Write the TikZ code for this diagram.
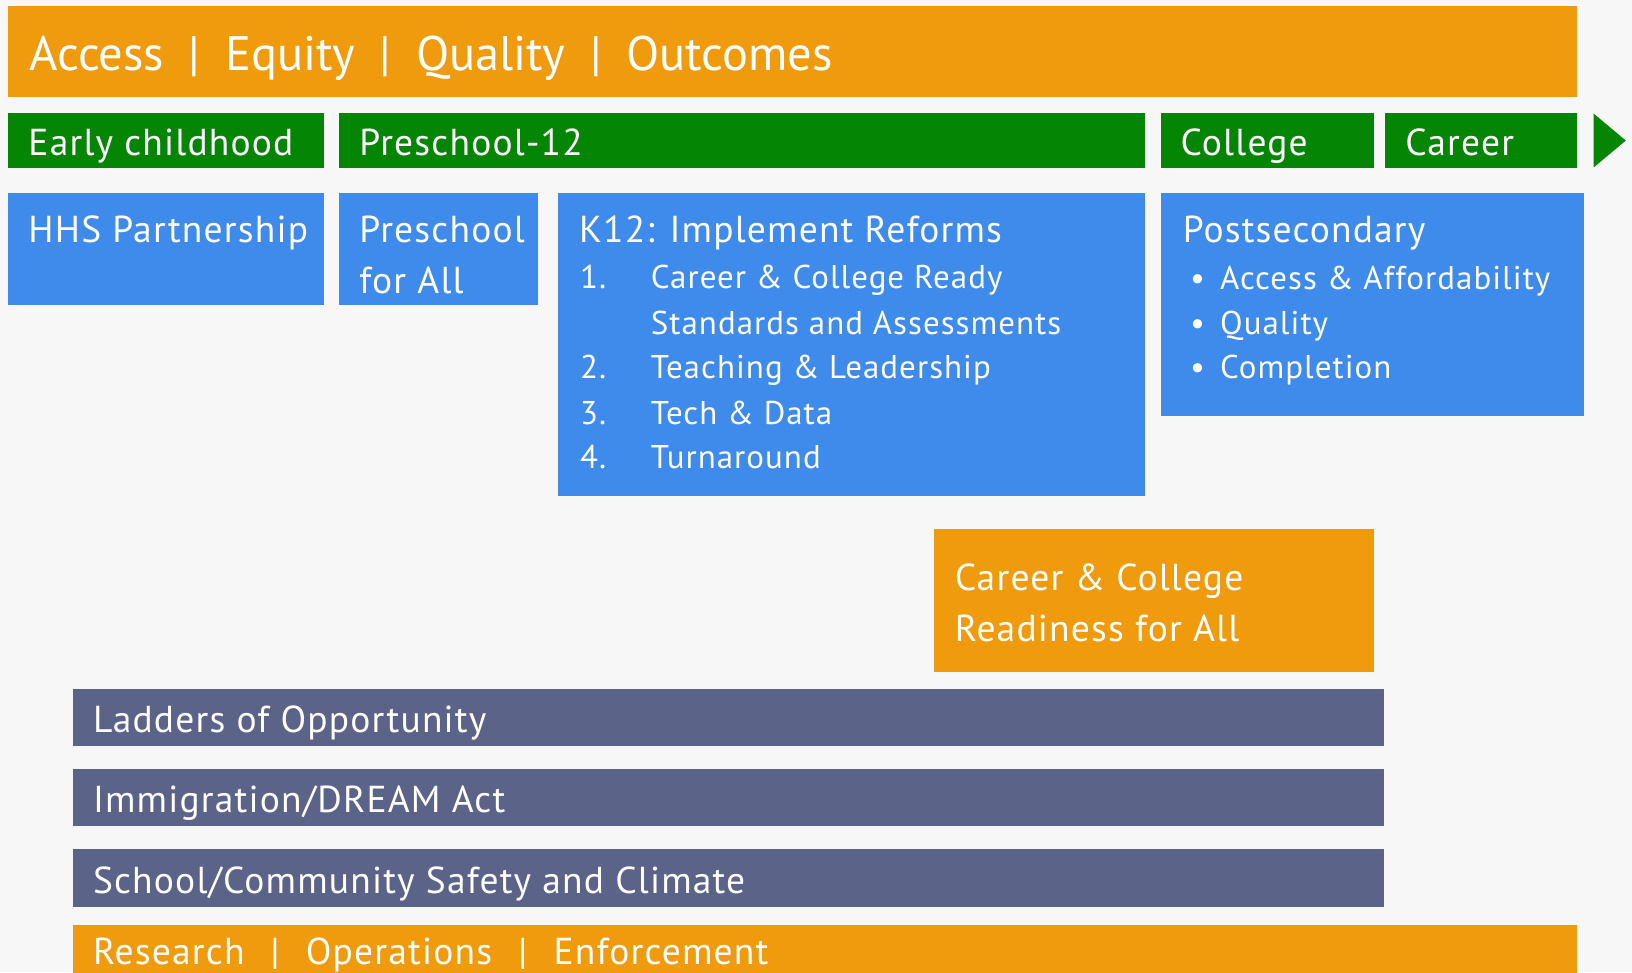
\documentclass[tikz,border=0pt]{standalone}
\usepackage{fontspec}
\setmainfont{PT Sans}
\newfontfamily\widefont[LetterSpace=3.2]{PT Sans}
\definecolor{barorange}{RGB}{240,155,14}
\definecolor{bargreen}{RGB}{4,134,4}
\definecolor{barblue}{RGB}{62,139,236}
\definecolor{barslate}{RGB}{91,99,137}
\definecolor{paper}{RGB}{247,247,247}
\newcommand{\vsep}[1]{\hspace{#1}|\hspace{#1}}
\begin{document}
\begin{tikzpicture}[x=0.02cm,y=-0.02cm,
    txt/.style={text=white,inner sep=0pt,anchor=base west,font=\widefont\fontsize{20.5}{24}\selectfont},
    bigtxt/.style={txt,font=\rmfamily\fontsize{26.5}{30}\selectfont},
    smalltxt/.style={txt,font=\widefont\fontsize{18}{22}\selectfont}]
      % page
      \fill[paper] (0,0) rectangle (1568,934);
      \useasboundingbox (0,0) rectangle (1568,934);
      % bars and boxes
      \fill[barorange] (8,6) rectangle (1515,93);
      \fill[bargreen] (8,109) rectangle (311,161);
      \fill[bargreen] (326,109) rectangle (1100,161);
      \fill[bargreen] (1115,109) rectangle (1320,161);
      \fill[bargreen] (1331,109) rectangle (1515,161);
      \fill[bargreen] (1531,109) -- (1562,135) -- (1531,161) -- cycle;
      \fill[barblue] (8,185) rectangle (311,293);
      \fill[barblue] (326,185) rectangle (517,293);
      \fill[barblue] (536,185) rectangle (1100,477);
      \fill[barblue] (1115,185) rectangle (1522,400);
      \fill[barorange] (897,508) rectangle (1320,646);
      \fill[barslate] (70,662) rectangle (1330,717);
      \fill[barslate] (70,739) rectangle (1330,794);
      \fill[barslate] (70,816) rectangle (1330,871);
      \fill[barorange] (70,889) rectangle (1515,940);
      % texts
      \node[bigtxt] (goals) at (28,68) {Access\vsep{0.51em}Equity\vsep{0.51em}Quality\vsep{0.51em}Outcomes};
      \node[txt] (early) at (27,149) {Early childhood};
      \node[txt] (prek12) at (345,149) {Preschool-12};
      \node[txt] (college) at (1134,149) {College};
      \node[txt] (career) at (1350,149) {Career};
      \node[txt] (hhs) at (27,233) {HHS Partnership};
      \node[txt] (prek) at (345,233) {Preschool};
      \node[txt] (prekall) at (345,282) {for All};
      \node[txt] (k12) at (556,233) {K12: Implement Reforms};
      \node[smalltxt] (n1) at (557,277) {1.};
      \node[smalltxt] (ccr) at (625,277) {Career \& College Ready};
      \node[smalltxt] (std) at (625,321) {Standards and Assessments};
      \node[smalltxt] (n2) at (557,364) {2.};
      \node[smalltxt] (teach) at (625,364) {Teaching \& Leadership};
      \node[smalltxt] (n3) at (557,408) {3.};
      \node[smalltxt] (tech) at (625,408) {Tech \& Data};
      \node[smalltxt] (n4) at (557,450) {4.};
      \node[smalltxt] (turn) at (625,450) {Turnaround};
      \node[txt] (post) at (1136,233) {Postsecondary};
      \node[smalltxt] (b1) at (1143,278) {•};
      \node[smalltxt] (afford) at (1172,278) {Access \& Affordability};
      \node[smalltxt] (b2) at (1143,321) {•};
      \node[smalltxt] (quality) at (1172,321) {Quality};
      \node[smalltxt] (b3) at (1143,364) {•};
      \node[smalltxt] (complete) at (1172,364) {Completion};
      \node[txt] (ccra) at (917,567) {Career \& College};
      \node[txt] (ccrb) at (917,616) {Readiness for All};
      \node[txt] (ladders) at (89,704) {Ladders of Opportunity};
      \node[txt] (dream) at (89,781) {Immigration/DREAM Act};
      \node[txt] (safety) at (89,858) {School/Community Safety and Climate};
      \node[txt] (support) at (89,927) {Research\vsep{0.7em}Operations\vsep{0.7em}Enforcement};
    \end{tikzpicture}
\end{document}
